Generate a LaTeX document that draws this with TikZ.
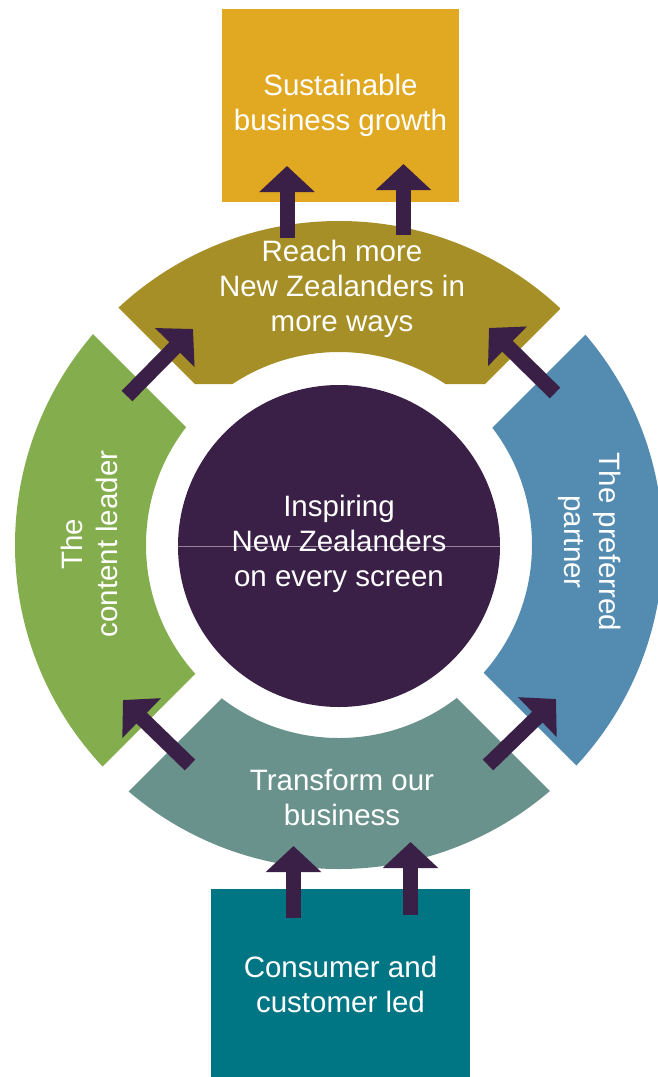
\documentclass[tikz,border=0pt]{standalone}
\usepackage{fontspec}
\setmainfont{Liberation Sans}
\usepackage{tikz}
\usetikzlibrary{arrows.meta}

\definecolor{boxgold}{HTML}{E1A822}
\definecolor{boxteal}{HTML}{007584}
\definecolor{ringolive}{HTML}{A68F26}
\definecolor{ringgreen}{HTML}{84AD4E}
\definecolor{ringblue}{HTML}{548BB0}
\definecolor{ringteal}{HTML}{6A928C}
\definecolor{deeppurple}{HTML}{3A2047}

\tikzset{
  lbl/.style={text=white, align=center, font=\fontsize{29.5pt}{35pt}\selectfont},
  growarrow/.style={draw=deeppurple, line width=15pt, -{Triangle[length=26pt,width=54pt]}},
  midline/.style={draw=deeppurple!55!white, line width=0.6pt}
}

\begin{document}
\begin{tikzpicture}[x=1pt,y=-1pt]
\useasboundingbox (0,0) rectangle (657,1077);
\node[lbl, fill=boxgold, minimum width=237pt, minimum height=193pt] (growth) at (340.5,105.5) {Sustainable\\business growth};
\node[lbl, fill=boxteal, minimum width=259pt, minimum height=190pt] (consumer) at (340.5,984) {Consumer and\\customer led};
\begin{scope}
\clip (195,384) -- (-300,-111) -- (980,-111) -- (485,384) -- cycle;
\fill[ringolive, even odd rule] (339,545) circle (324pt) circle (193pt);
\end{scope}
\begin{scope}
\clip (314,555) -- (-286,-45) -- (-286,1155) -- cycle;
\fill[ringgreen, even odd rule] (339,545) circle (324pt) circle (193pt);
\end{scope}
\begin{scope}
\clip (365.5,554.5) -- (965.5,-45.5) -- (965.5,1154.5) -- cycle;
\fill[ringblue, even odd rule] (339,545) circle (324pt) circle (193pt);
\end{scope}
\begin{scope}
\clip (339.5,580.5) -- (-260.5,1180.5) -- (939.5,1180.5) -- cycle;
\fill[ringteal, even odd rule] (339,545) circle (324pt) circle (193pt);
\end{scope}
\node[lbl, circle, fill=deeppurple, minimum size=322pt] (core) at (339,546) {};
\draw[midline] (core.west) -- (core.east);
\node[lbl] (vision) at (339,544) {Inspiring\\New Zealanders\\on every screen};
\node[lbl] (reach) at (342,289) {Reach more\\New Zealanders in\\more ways};
\node[lbl] (transform) at (342,797) {Transform our\\business};
\node[lbl, rotate=90] (leader) at (89,544) {The\\content leader};
\node[lbl, rotate=-90] (partner) at (590,542) {The preferred\\partner};
% arrow ends
\coordinate (up1s) at (287,238);   \coordinate (up1e) at (287,166);
\coordinate (up2s) at (403.5,235); \coordinate (up2e) at (403.5,164);
\coordinate (in1s) at (293.5,918); \coordinate (in1e) at (293.5,846);
\coordinate (in2s) at (410.5,915); \coordinate (in2e) at (410.5,842);
\coordinate (tls) at (127,396);    \coordinate (tle) at (193,329);
\coordinate (trs) at (555,393);    \coordinate (tre) at (489,328);
\coordinate (bls) at (190,765);    \coordinate (ble) at (123,700);
\coordinate (brs) at (488,765);    \coordinate (bre) at (556,699);
\draw[growarrow] (up1s) -- (up1e);
\draw[growarrow] (up2s) -- (up2e);
\draw[growarrow] (in1s) -- (in1e);
\draw[growarrow] (in2s) -- (in2e);
\draw[growarrow] (tls) -- (tle);
\draw[growarrow] (trs) -- (tre);
\draw[growarrow] (bls) -- (ble);
\draw[growarrow] (brs) -- (bre);
\end{tikzpicture}
\end{document}
